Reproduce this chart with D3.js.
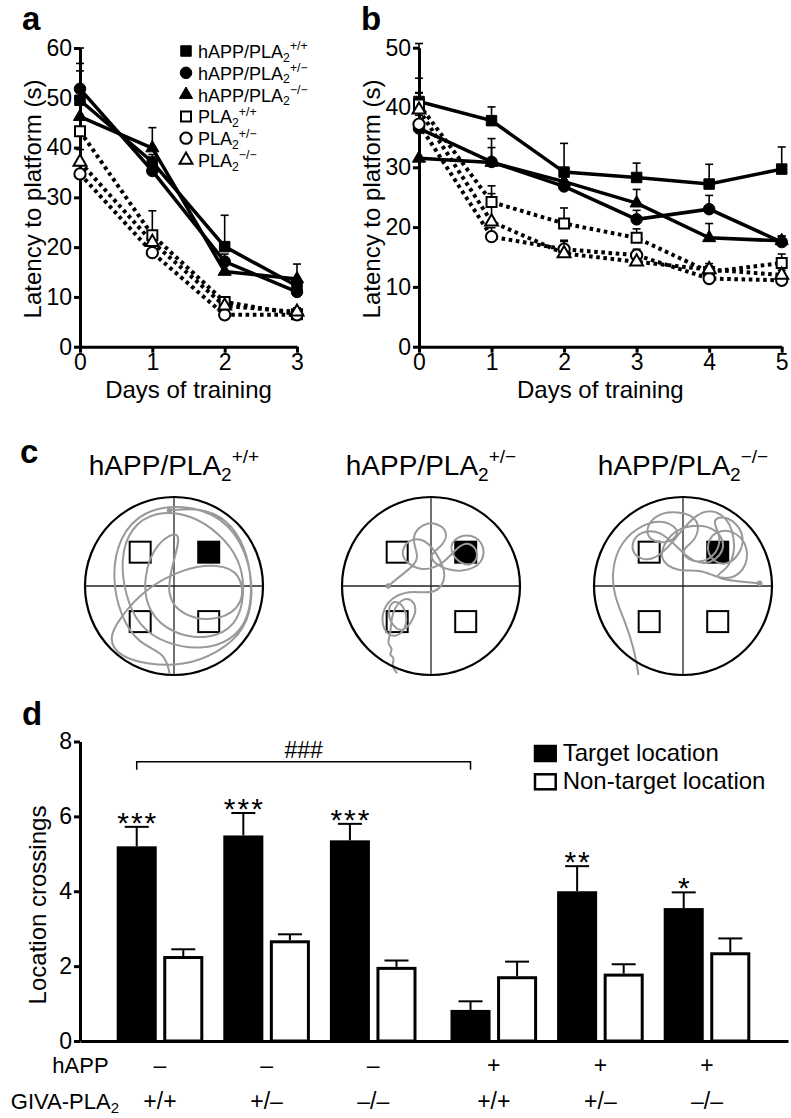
<!DOCTYPE html>
<html><head><meta charset="utf-8">
<script src="https://cdn.jsdelivr.net/npm/d3@7"></script>
<style>
body{margin:0;background:#fff;}
svg{display:block;font-family:"Liberation Sans",Arial,Helvetica,sans-serif;}
</style></head><body>
<svg id="fig" width="791" height="1118"></svg>
<script>
// ---------------- DATA ----------------
// Panel a (days 0-3)
const daysA = [0, 1, 2, 3];
const aHAPPpp = [49.5, 37.1, 20.1, 12.2];
const aHAPPppSem = [7.4, 1.5, 6.3, 1.5];
const aHAPPpm = [51.8, 35.3, 17.1, 11.0];
const aHAPPpmSem = [8.2, 1.5, 1.5, 1.0];
const aHAPPmm = [46.2, 39.9, 15.1, 13.6];
const aHAPPmmSem = [9.2, 4.1, 1.2, 3.0];
const aPLApp = [43.3, 22.4, 9.0, 6.5];
const aPLAppSem = [2.5, 4.9, 1.0, 0.8];
const aPLApm = [34.7, 18.9, 6.4, 6.4];
const aPLApmSem = [2.0, 1.5, 0.8, 0.5];
const aPLAmm = [37.1, 21.0, 8.2, 7.0];
const aPLAmmSem = [2.5, 2.0, 1.0, 0.8];
const yTicksA = [0, 10, 20, 30, 40, 50, 60];

// Panel b (days 0-5)
const daysB = [0, 1, 2, 3, 4, 5];
const bHAPPpp = [41.0, 37.8, 29.2, 28.3, 27.2, 29.7];
const bHAPPppSem = [9.7, 2.3, 4.8, 2.4, 3.3, 3.7];
const bHAPPpm = [36.5, 30.9, 26.8, 21.3, 23.0, 17.5];
const bHAPPpmSem = [8.4, 2.4, 2.0, 1.5, 2.3, 1.0];
const bHAPPmm = [31.5, 30.8, 27.6, 24.0, 18.2, 17.7];
const bHAPPmmSem = [10.9, 4.0, 2.0, 2.3, 2.4, 0.8];
const bPLApp = [40.5, 24.2, 20.6, 18.2, 12.5, 14.0];
const bPLAppSem = [2.0, 2.7, 2.6, 1.5, 1.0, 1.5];
const bPLApm = [37.2, 18.4, 16.3, 15.3, 11.4, 11.1];
const bPLApmSem = [1.5, 1.5, 1.5, 1.0, 0.8, 0.8];
const bPLAmm = [39.6, 20.9, 15.6, 14.2, 12.9, 12.0];
const bPLAmmSem = [1.5, 4.7, 2.0, 1.2, 1.0, 0.8];
const yTicksB = [0, 10, 20, 30, 40, 50];

// Legend of a/b
const legendPrefix = ["hAPP/PLA", "hAPP/PLA", "hAPP/PLA", "PLA", "PLA", "PLA"];
const legendSup = ["+/+", "+/\u2212", "\u2212/\u2212", "+/+", "+/\u2212", "\u2212/\u2212"];

// Panel c: swim paths (normalised pool coordinates, radius = 1, y downward)
const poolTitlesSup = ["+/+", "+/\u2212", "\u2212/\u2212"];
const platforms = [[-0.38, -0.38, 0], [0.39, -0.38, 1], [-0.38, 0.40, 0], [0.39, 0.40, 0]];
const trackPP = [[-0.05,-0.85],[0.3,-0.88],[0.6,-0.75],[0.8,-0.45],[0.88,-0.05],[0.85,0.35],[0.65,0.62],[0.3,0.72],[-0.1,0.65],[-0.4,0.45],[-0.55,0.1],[-0.6,-0.3],[-0.5,-0.65],[-0.2,-0.85],[0.2,-0.8],[0.5,-0.6],[0.75,-0.3],[0.8,0.1],[0.7,0.45],[0.4,0.6],[0.0,0.55],[-0.3,0.3],[-0.35,-0.1],[-0.2,-0.5],[0.1,-0.65],[0.0,-0.3],[-0.1,0.1],[0.1,0.35],[0.5,0.4],[0.8,0.2],[0.75,-0.15],[0.5,-0.25],[0.1,-0.2],[-0.35,0.05],[-0.6,0.35],[-0.75,0.6],[-0.6,0.8],[-0.3,0.88],[0.1,0.9],[0.5,0.75],[0.8,0.5],[0.9,0.1],[0.82,-0.4],[0.55,-0.78],[0.1,-0.92],[-0.35,-0.85],[-0.62,-0.55],[-0.7,-0.1],[-0.6,0.35],[-0.4,0.65],[-0.1,0.75],[-0.05,0.98]];
const trackPM = [[-0.48,0.0],[-0.3,-0.15],[-0.1,-0.3],[-0.25,-0.55],[-0.05,-0.75],[0.2,-0.65],[0.15,-0.45],[-0.05,-0.35],[0.1,-0.2],[0.35,-0.15],[0.6,-0.25],[0.6,-0.5],[0.4,-0.6],[0.2,-0.5],[0.25,-0.3],[0.45,-0.2],[0.55,-0.35],[0.45,-0.5],[0.3,-0.45],[0.15,-0.25],[-0.1,-0.15],[-0.35,-0.3],[-0.3,-0.5],[-0.1,-0.55],[0.05,-0.4],[0.2,-0.1],[0.05,0.1],[-0.2,0.05],[-0.4,0.1],[-0.55,0.25],[-0.55,0.5],[-0.4,0.6],[-0.25,0.45],[-0.3,0.2],[-0.45,0.15],[-0.5,0.35],[-0.35,0.55],[-0.2,0.4],[-0.15,0.2],[-0.3,0.1],[-0.45,0.3],[-0.45,0.55],[-0.5,0.65],[-0.42,0.7],[-0.48,0.78],[-0.4,0.8],[-0.45,0.9],[-0.38,0.98]];
const trackMM = [[-0.5,1.0],[-0.55,0.7],[-0.65,0.4],[-0.78,0.1],[-0.8,-0.2],[-0.7,-0.5],[-0.45,-0.7],[-0.2,-0.75],[0.0,-0.6],[-0.2,-0.45],[-0.45,-0.55],[-0.35,-0.8],[-0.05,-0.85],[0.2,-0.75],[0.15,-0.5],[-0.05,-0.4],[0.1,-0.25],[0.35,-0.3],[0.45,-0.55],[0.3,-0.75],[0.5,-0.8],[0.7,-0.6],[0.65,-0.35],[0.45,-0.2],[0.25,-0.35],[0.3,-0.6],[0.55,-0.65],[0.75,-0.45],[0.7,-0.15],[0.45,-0.05],[0.2,-0.2],[-0.05,-0.15],[-0.3,-0.3],[-0.15,-0.6],[0.1,-0.7],[0.4,-0.65],[0.5,-0.4],[0.25,-0.2],[0.0,-0.35],[-0.25,-0.65],[-0.55,-0.6],[-0.6,-0.35],[-0.35,-0.25],[-0.1,-0.5],[0.15,-0.85],[0.45,-0.85],[0.6,-0.55],[0.55,-0.2],[0.3,-0.1],[0.6,-0.05],[0.86,-0.03]];
const trackDotAtEnd = [false, false, true];

// Panel d
const dGroups = ["g1", "g2", "g3", "g4", "g5", "g6"];
const hAPPLabels = ["\u2013", "\u2013", "\u2013", "+", "+", "+"];
const plaLabels = ["+/+", "+/\u2013", "\u2013/\u2013", "+/+", "+/\u2013", "\u2013/\u2013"];
const targetVals = [5.2, 5.49, 5.36, 0.83, 4.0, 3.55];
const targetSem = [0.52, 0.6, 0.44, 0.23, 0.67, 0.42];
const nonTargetVals = [2.27, 2.69, 1.98, 1.73, 1.8, 2.37];
const nonTargetSem = [0.18, 0.16, 0.17, 0.39, 0.25, 0.37];
const sigLabels = ["***", "***", "***", "", "**", "*"];
const yTicksD = [0, 2, 4, 6, 8];
const bracketLevel = 7.46;

// ---------------- DRAWING ----------------
const FONT = "'Liberation Sans', Arial, Helvetica, sans-serif";
const svg = d3.select("#fig");
const TICKFS = 23;

function styleAxis(g, fs) {
  g.attr("font-size", fs).attr("font-family", FONT);
  g.selectAll(".domain").attr("stroke", "#000").attr("stroke-width", 3);
  g.selectAll(".tick line").attr("stroke", "#000").attr("stroke-width", 3);
  g.selectAll(".tick text").attr("fill", "#000");
}
function genoText(sel, prefix, sup, fs) {
  sel.append("tspan").text(prefix);
  sel.append("tspan").attr("font-size", fs * 0.68).attr("dy", fs * 0.2).text("2");
  sel.append("tspan").attr("font-size", fs * 0.68).attr("dy", -fs * 0.62).text(sup);
}
const symTypes = [d3.symbolSquare, d3.symbolCircle, d3.symbolTriangle, d3.symbolSquare, d3.symbolCircle, d3.symbolTriangle];
const symSizes = [110, 105, 75, 100, 100, 72];
function drawSymbol(g, i, x, y) {
  const filled = i < 3;
  g.append("path")
    .attr("d", d3.symbol().type(symTypes[i]).size(symSizes[i])())
    .attr("transform", `translate(${x},${y})`)
    .attr("fill", filled ? "#000" : "#fff")
    .attr("stroke", "#000").attr("stroke-width", filled ? 1 : 2);
}

function linePanel(cfg) {
  const g = svg.append("g");
  const x = d3.scaleLinear().domain([0, cfg.days[cfg.days.length - 1]]).range([cfg.x0, cfg.x1]);
  const y = d3.scaleLinear().domain([0, cfg.yMax]).range([cfg.y0, cfg.y1]);
  const yAx = g.append("g").attr("transform", `translate(${cfg.x0},0)`)
    .call(d3.axisLeft(y).tickValues(cfg.yTicks).tickSize(6).tickSizeOuter(0).tickPadding(2).tickFormat(d3.format("d")));
  styleAxis(yAx, TICKFS);
  const xAx = g.append("g").attr("transform", `translate(0,${cfg.y0})`)
    .call(d3.axisBottom(x).tickValues(cfg.days).tickSize(6).tickSizeOuter(0).tickPadding(1).tickFormat(d3.format("d")));
  styleAxis(xAx, TICKFS);

  g.append("text").attr("x", (cfg.x0 + cfg.x1) / 2).attr("y", 398).attr("text-anchor", "middle")
    .attr("font-size", 24).text("Days of training");
  g.append("text").attr("transform", `translate(${cfg.labelX},199) rotate(-90)`).attr("text-anchor", "middle")
    .attr("font-size", 24).text("Latency to platform (s)");

  // error bars
  cfg.series.forEach((s, i) => {
    s.vals.forEach((v, j) => {
      const xx = x(cfg.days[j]), yt = y(v + s.sem[j]);
      g.append("line").attr("x1", xx).attr("x2", xx).attr("y1", y(v)).attr("y2", yt).attr("stroke", "#000").attr("stroke-width", 1.6);
      g.append("line").attr("x1", xx - 4).attr("x2", xx + 4).attr("y1", yt).attr("y2", yt).attr("stroke", "#000").attr("stroke-width", 1.6);
    });
  });
  // lines
  const line = d3.line().x((d, j) => x(cfg.days[j])).y(d => y(d));
  cfg.series.forEach((s, i) => {
    g.append("path").attr("d", line(s.vals)).attr("fill", "none").attr("stroke", "#000")
      .attr("stroke-width", i < 3 ? 3.5 : 4)
      .attr("stroke-dasharray", i < 3 ? null : "3.6,3.6");
  });
  // markers
  cfg.series.forEach((s, i) => {
    s.vals.forEach((v, j) => drawSymbol(g, i, x(cfg.days[j]), y(v)));
  });
  return g;
}

// Panel a
const gA = linePanel({
  x0: 80, x1: 297, y0: 346.7, y1: 48, yMax: 60, yTicks: yTicksA, days: daysA, labelX: 41,
  series: [
    {vals: aHAPPpp, sem: aHAPPppSem}, {vals: aHAPPpm, sem: aHAPPpmSem}, {vals: aHAPPmm, sem: aHAPPmmSem},
    {vals: aPLApp, sem: aPLAppSem}, {vals: aPLApm, sem: aPLApmSem}, {vals: aPLAmm, sem: aPLAmmSem}
  ]
});
// legend a
legendPrefix.forEach((p, i) => {
  const yy = 51 + i * 21.8;
  drawSymbol(gA, i, 186, yy);
  const t = gA.append("text").attr("x", 198).attr("y", yy + 7).attr("font-size", 18);
  genoText(t, p, legendSup[i], 18);
});

// Panel b
linePanel({
  x0: 419, x1: 781.7, y0: 346.7, y1: 47.7, yMax: 50, yTicks: yTicksB, days: daysB, labelX: 380,
  series: [
    {vals: bHAPPpp, sem: bHAPPppSem}, {vals: bHAPPpm, sem: bHAPPpmSem}, {vals: bHAPPmm, sem: bHAPPmmSem},
    {vals: bPLApp, sem: bPLAppSem}, {vals: bPLApm, sem: bPLApmSem}, {vals: bPLAmm, sem: bPLAmmSem}
  ]
});

// panel letters
[["a", 22, 30], ["b", 361, 30], ["c", 20, 463], ["d", 22, 725]].forEach(([l, x, y]) => {
  svg.append("text").attr("x", x).attr("y", y).attr("font-size", 33).attr("font-weight", "bold").text(l);
});

// Panel c
const pools = [174, 431, 683];
const tracks = [trackPP, trackPM, trackMM];
const poolR = 89, poolCY = 586;
pools.forEach((cx, k) => {
  const g = svg.append("g");
  const sx = d3.scaleLinear().domain([-1, 1]).range([cx - poolR, cx + poolR]);
  const sy = d3.scaleLinear().domain([-1, 1]).range([poolCY - poolR, poolCY + poolR]);
  const t = g.append("text").attr("x", cx).attr("y", 475).attr("text-anchor", "middle").attr("font-size", 28);
  genoText(t, "hAPP/PLA", poolTitlesSup[k], 28);
  g.append("line").attr("x1", sx(0)).attr("x2", sx(0)).attr("y1", sy(-1)).attr("y2", sy(1)).attr("stroke", "#222").attr("stroke-width", 1.3);
  g.append("line").attr("x1", sx(-1)).attr("x2", sx(1)).attr("y1", sy(0)).attr("y2", sy(0)).attr("stroke", "#222").attr("stroke-width", 1.3);
  platforms.forEach(([px, py, tgt]) => {
    g.append("rect").attr("x", sx(px) - 10.5).attr("y", sy(py) - 10.5).attr("width", 21).attr("height", 21)
      .attr("fill", tgt ? "#000" : "#fff").attr("fill-opacity", tgt ? 1 : 0).attr("stroke", "#000").attr("stroke-width", 2);
  });
  const line = d3.line().x(d => sx(d[0])).y(d => sy(d[1])).curve(d3.curveBasis);
  g.append("path").attr("d", line(tracks[k])).attr("fill", "none").attr("stroke", "#999").attr("stroke-width", 2);
  const dot = trackDotAtEnd[k] ? tracks[k][tracks[k].length - 1] : tracks[k][0];
  g.append("circle").attr("cx", sx(dot[0])).attr("cy", sy(dot[1])).attr("r", 2.8).attr("fill", "#999");
  g.append("circle").attr("cx", cx).attr("cy", poolCY).attr("r", poolR).attr("fill", "none").attr("stroke", "#000").attr("stroke-width", 2.2);
});

// Panel d
(function () {
  const g = svg.append("g");
  const y = d3.scaleLinear().domain([0, 8]).range([1041, 741.5]);
  const gx = d3.scaleLinear().domain([0, 5]).range([160, 693]);
  const center = (i) => gx(i) + (hAPPLabels[i] === "+" ? 14 : 0);
  const sub = d3.scaleBand().domain(["target", "non"]).range([-43.3, 43.3]).paddingInner(0.14);
  const yAx = g.append("g").attr("transform", "translate(80,0)")
    .call(d3.axisLeft(y).tickValues(yTicksD).tickSize(6).tickSizeOuter(0).tickPadding(2));
  styleAxis(yAx, TICKFS);
  const xAx = g.append("g").attr("transform", `translate(0,${y(0)})`)
    .call(d3.axisBottom(d3.scaleLinear().range([80, 788])).ticks(0).tickSizeOuter(0));
  styleAxis(xAx, TICKFS);
  g.append("text").attr("transform", "translate(46,905) rotate(-90)").attr("text-anchor", "middle")
    .attr("font-size", 24).text("Location crossings");

  dGroups.forEach((grp, i) => {
    const c = center(i);
    [["target", targetVals[i], targetSem[i]], ["non", nonTargetVals[i], nonTargetSem[i]]].forEach(([k, v, s]) => {
      const bx = c + sub(k), bw = sub.bandwidth();
      const xm = bx + bw / 2;
      g.append("line").attr("x1", xm).attr("x2", xm).attr("y1", y(v)).attr("y2", y(v + s)).attr("stroke", "#000").attr("stroke-width", 2);
      g.append("line").attr("x1", xm - 12).attr("x2", xm + 12).attr("y1", y(v + s)).attr("y2", y(v + s)).attr("stroke", "#000").attr("stroke-width", 2);
      if (k === "target") {
        g.append("rect").attr("x", bx).attr("y", y(v)).attr("width", bw).attr("height", y(0) - y(v)).attr("fill", "#000");
      } else {
        g.append("rect").attr("x", bx + 1.5).attr("y", y(v) + 1.5).attr("width", bw - 3).attr("height", y(0) - y(v) - 1.5)
          .attr("fill", "#fff").attr("stroke", "#000").attr("stroke-width", 3);
      }
    });
    const tx = c + sub("target") + sub.bandwidth() / 2;
    if (sigLabels[i]) {
      g.append("text").attr("x", tx + 1).attr("y", y(targetVals[i] + targetSem[i]) + 6).attr("text-anchor", "middle")
        .attr("font-size", 30).attr("letter-spacing", 2).text(sigLabels[i]);
    }
    g.append("text").attr("x", c).attr("y", 1073).attr("text-anchor", "middle").attr("font-size", 23).text(hAPPLabels[i]);
    g.append("text").attr("x", c).attr("y", 1109).attr("text-anchor", "middle").attr("font-size", 23).text(plaLabels[i]);
  });
  g.append("text").attr("x", 108.6).attr("y", 1073).attr("text-anchor", "end").attr("font-size", 22).text("hAPP");
  const gt = g.append("text").attr("x", 119).attr("y", 1109).attr("text-anchor", "end").attr("font-size", 22);
  gt.append("tspan").text("GIVA-PLA");
  gt.append("tspan").attr("font-size", 15).attr("dy", 4).text("2");

  // bracket
  const bx1 = center(0) + sub("target") + sub.bandwidth() / 2;
  const bx2 = center(3) + sub("target") + sub.bandwidth() / 2;
  g.append("path").attr("d", `M${bx1},${y(bracketLevel) + 8}V${y(bracketLevel)}H${bx2}V${y(bracketLevel) + 8}`)
    .attr("fill", "none").attr("stroke", "#000").attr("stroke-width", 1.5);
  g.append("text").attr("x", (bx1 + bx2) / 2).attr("y", y(bracketLevel) - 4).attr("text-anchor", "middle")
    .attr("font-size", 23).text("###");

  // legend
  const lg = [["Target location", "#000"], ["Non-target location", "#fff"]];
  lg.forEach(([t, f], i) => {
    const yy = 745 + i * 28.3;
    g.append("rect").attr("x", 535).attr("y", yy + 1).attr("width", 20.7).attr("height", 15).attr("fill", f).attr("stroke", "#000").attr("stroke-width", 2.5);
    g.append("text").attr("x", 562.7).attr("y", yy + 16).attr("font-size", 24).text(t);
  });
})();
</script>
</body></html>
